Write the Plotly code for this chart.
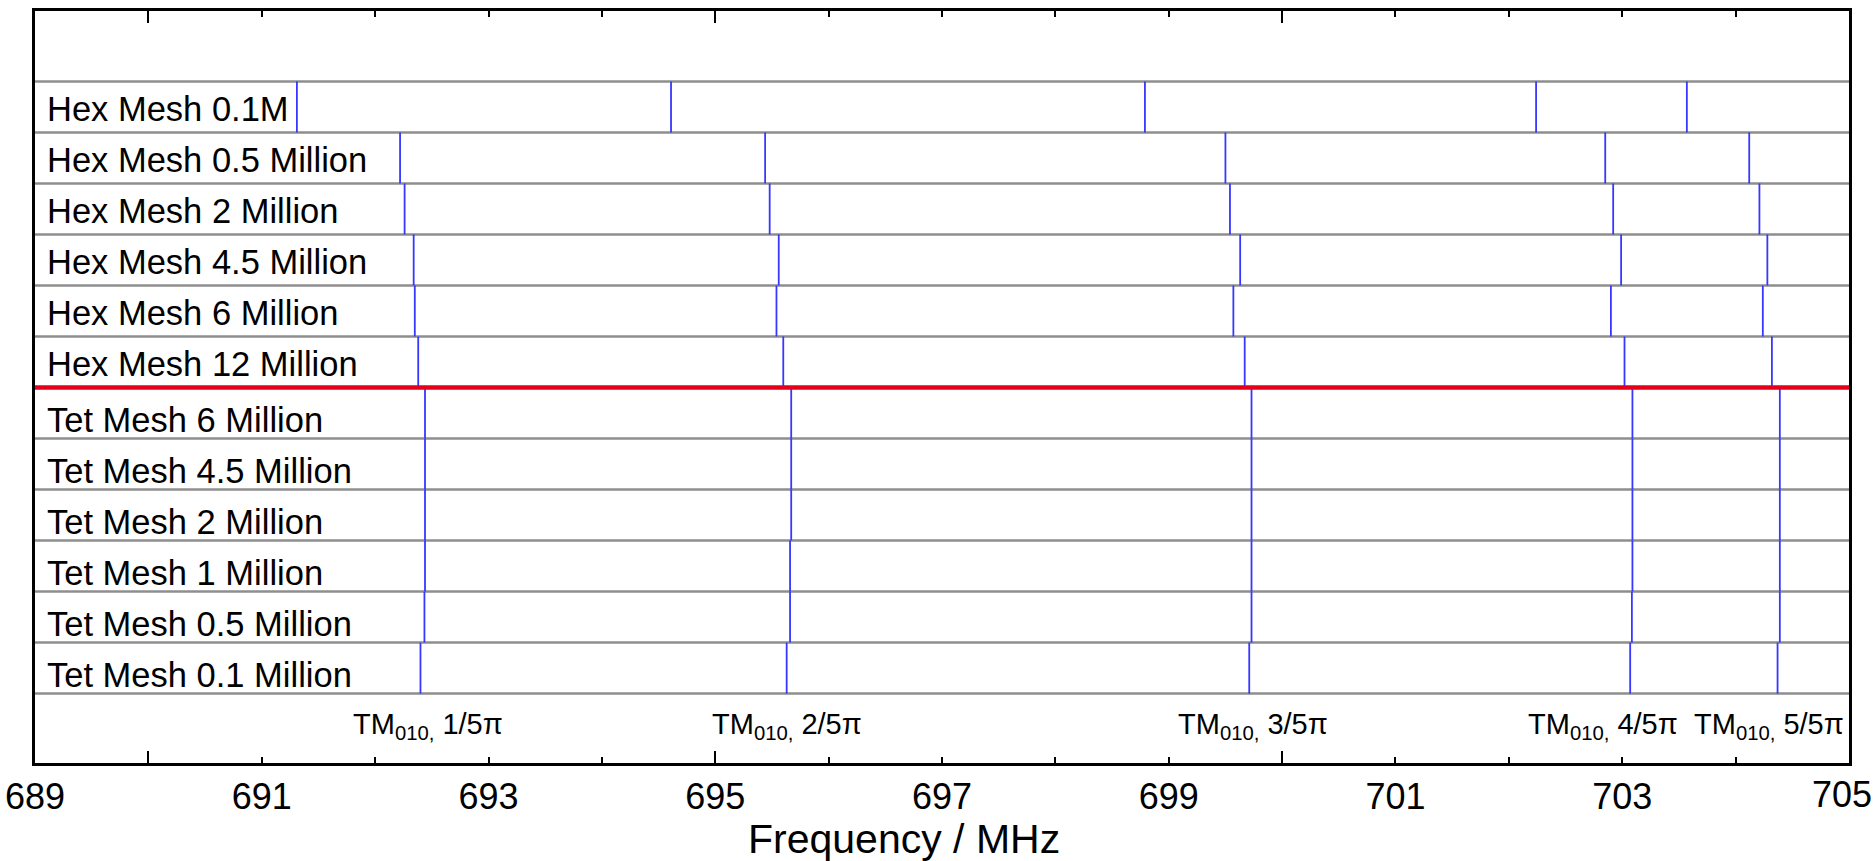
import plotly.graph_objects as go

# ---------------- data ----------------
mesh_labels = [
    "Hex Mesh 0.1M", "Hex Mesh 0.5 Million", "Hex Mesh 2 Million",
    "Hex Mesh 4.5 Million", "Hex Mesh 6 Million", "Hex Mesh 12 Million",
    "Tet Mesh 6 Million", "Tet Mesh 4.5 Million", "Tet Mesh 2 Million",
    "Tet Mesh 1 Million", "Tet Mesh 0.5 Million", "Tet Mesh 0.1 Million",
]
mode_1 = [691.31, 692.22, 692.26, 692.34, 692.35, 692.38, 692.44, 692.44, 692.44, 692.44, 692.435, 692.40]
mode_2 = [694.61, 695.44, 695.48, 695.56, 695.54, 695.60, 695.67, 695.67, 695.67, 695.66, 695.66, 695.63]
mode_3 = [698.79, 699.50, 699.54, 699.63, 699.57, 699.67, 699.73, 699.73, 699.73, 699.73, 699.73, 699.71]
mode_4 = [702.24, 702.85, 702.92, 702.99, 702.90, 703.02, 703.09, 703.09, 703.09, 703.09, 703.085, 703.07]
mode_5 = [703.57, 704.12, 704.21, 704.28, 704.24, 704.32, 704.39, 704.39, 704.39, 704.39, 704.39, 704.37]
modes = [mode_1, mode_2, mode_3, mode_4, mode_5]
mode_names = ["1/5π", "2/5π", "3/5π", "4/5π", "5/5π"]
tick_labels = [689, 691, 693, 695, 697, 699, 701, 703, 705]
n_hex = 6
# --------------------------------------

FONT = "Arial, Liberation Sans, sans-serif"
n_rows = len(mesh_labels)

# vertical frequency marks: one segment per row per mode
xs, ys = [], []
for m in modes:
    for i, f in enumerate(m):
        xs += [f, f, None]
        ys += [i, i + 1, None]

fig = go.Figure()
fig.add_trace(go.Scatter(
    x=xs, y=ys, mode="lines",
    line=dict(color="rgb(55,55,255)", width=1.8),
    hoverinfo="skip", showlegend=False,
))
# invisible traces to anchor extra tick axes
fig.add_trace(go.Scatter(x=[689], y=[0], xaxis="x2", mode="markers",
                         marker=dict(opacity=0), showlegend=False, hoverinfo="skip"))
fig.add_trace(go.Scatter(x=[689], y=[0], xaxis="x3", mode="markers",
                         marker=dict(opacity=0), showlegend=False, hoverinfo="skip"))

shapes = []
for i in range(n_rows + 1):
    shapes.append(dict(type="line", xref="paper", yref="y", x0=0, x1=1, y0=i, y1=i,
                       line=dict(color="#8e8e8e", width=2.5), layer="below"))
shapes.append(dict(type="line", xref="paper", yref="y", x0=0, x1=1, y0=n_hex, y1=n_hex,
                   line=dict(color="#e3001b", width=4.5), layer="above"))

annotations = []
for i, lab in enumerate(mesh_labels):
    annotations.append(dict(
        x=0, xref="paper", y=i + 0.5, yref="y", text=lab, showarrow=False,
        xanchor="left", yanchor="middle", xshift=10,
        yshift=-2 if i < n_hex else -7,
        font=dict(family=FONT, size=34.5, color="black"),
    ))
label_shift = [8, 0, 4, -27, -9]
for k, m in enumerate(modes):
    annotations.append(dict(
        x=m[-1], xref="x", y=n_rows + 0.6, yref="y",
        text="TM<sub>010,</sub> " + mode_names[k], showarrow=False,
        xanchor="center", yanchor="middle", xshift=label_shift[k], yshift=-2,
        font=dict(family=FONT, size=29, color="black"),
    ))
# x-axis title
annotations.append(dict(
    x=0.479, xref="paper", y=0, yref="paper", yshift=-76,
    text="Frequency / MHz", showarrow=False, xanchor="center", yanchor="middle",
    font=dict(family=FONT, size=41, color="black"),
))
# last tick label, kept inside the page edge
annotations.append(dict(
    x=1, xref="paper", y=0, yref="paper", xshift=25, yshift=-31,
    text=str(tick_labels[-1]), showarrow=False, xanchor="right", yanchor="middle",
    font=dict(family=FONT, size=36, color="black"),
))

xr = [689, 705.0001]
common_x = dict(range=xr, showgrid=False, zeroline=False, automargin=False)
fig.update_layout(
    width=1875, height=861,
    margin=dict(l=35, r=26, t=11, b=98, autoexpand=False),
    plot_bgcolor="white", paper_bgcolor="white",
    showlegend=False,
    xaxis=dict(
        **common_x,
        tickvals=tick_labels,
        ticktext=[str(t) for t in tick_labels[:-1]] + [""],
        ticks="inside", ticklen=6, tickwidth=1.5, tickcolor="black",
        showline=True, linecolor="black", linewidth=3, mirror="ticks",
        tickfont=dict(family=FONT, size=36, color="black"),
        ticklabeloverflow="allow",
    ),
    xaxis2=dict(
        **common_x, overlaying="x", side="bottom", anchor="y",
        tickvals=[t + 1 for t in tick_labels[:-1]],
        ticks="inside", ticklen=6, tickwidth=1.5, tickcolor="black",
        showticklabels=False, showline=False, mirror="ticks",
    ),
    xaxis3=dict(
        **common_x, overlaying="x", side="bottom", anchor="y",
        tickvals=[690, 695, 700],
        ticks="inside", ticklen=12, tickwidth=1.5, tickcolor="black",
        showticklabels=False, showline=False, mirror="ticks",
    ),
    yaxis=dict(
        range=[13.36, -1.38], showgrid=False, zeroline=False, automargin=False,
        showticklabels=False, ticks="",
        showline=True, linecolor="black", linewidth=3, mirror=True,
    ),
    shapes=shapes,
    annotations=annotations,
)

fig.write_html("out.html")
